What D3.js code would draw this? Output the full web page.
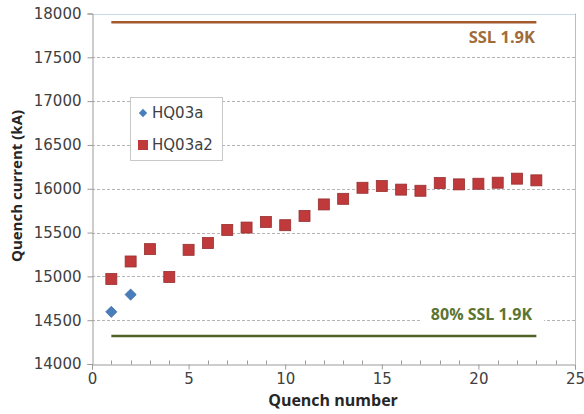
<!DOCTYPE html>
<html>
<head>
<meta charset="utf-8">
<script src="https://cdn.jsdelivr.net/npm/d3@7"></script>
<style>
  html, body { margin: 0; padding: 0; background: #fff; }
  svg { display: block; }
</style>
</head>
<body>
<svg id="chart" width="584" height="414"></svg>
<script>
// Quench training data
const quenchHQ03a = [1, 2];
const currentHQ03a = [14595, 14792];
const quenchHQ03a2 = [1, 2, 3, 4, 5, 6, 7, 8, 9, 10, 11, 12, 13, 14, 15, 16, 17, 18, 19, 20, 21, 22, 23];
const currentHQ03a2 = [14970, 15170, 15311, 14993, 15303, 15380, 15530, 15557, 15621, 15584, 15690, 15821, 15885, 16011, 16031, 15990, 15977, 16065, 16050, 16057, 16069, 16115, 16096];
const seriesNames = ["HQ03a", "HQ03a2"];
const sslLimit = 17900;
const sslFraction = 0.8;
const refStart = 1, refEnd = 23;
const xTicks = [0, 5, 10, 15, 20, 25];
const yTicks = [14000, 14500, 15000, 15500, 16000, 16500, 17000, 17500, 18000];
const sslLabel = "SSL 1.9K";
const sslFracLabel = "80% SSL 1.9K";

const svg = d3.select("#chart");
const plotLeft = 92, plotRight = 575, plotTop = 13.5, plotBottom = 364;

const x = d3.scaleLinear().domain([0, 25]).range([plotLeft, plotRight]);
const y = d3.scaleLinear().domain([14000, 18000]).range([plotBottom, plotTop]);

const tickFont = "DejaVu Sans, sans-serif";
const titleFont = "Open Sans, sans-serif";

// horizontal dashed gridlines
svg.append("g")
  .selectAll("line")
  .data(yTicks.filter(v => v > 14000 && v < 18000))
  .join("line")
  .attr("x1", plotLeft).attr("x2", plotRight)
  .attr("y1", d => Math.round(y(d)) + 0.5).attr("y2", d => Math.round(y(d)) + 0.5)
  .attr("stroke", "#b4b4b4")
  .attr("stroke-width", 1)
  .attr("stroke-dasharray", "3,2");

// plot frame: top and right edges
svg.append("line")
  .attr("x1", plotLeft).attr("x2", plotRight)
  .attr("y1", Math.round(y(18000)) + 0.5).attr("y2", Math.round(y(18000)) + 0.5)
  .attr("stroke", "#c9dbe8").attr("stroke-width", 1);
svg.append("line")
  .attr("x1", plotRight + 0.5).attr("x2", plotRight + 0.5)
  .attr("y1", y(18000)).attr("y2", y(14000))
  .attr("stroke", "#bdbdbd").attr("stroke-width", 1);

// y axis
const yAxis = d3.axisLeft(y).tickValues(yTicks).tickSize(5).tickPadding(6).tickFormat(d3.format("d"));
const gy = svg.append("g").attr("transform", `translate(${plotLeft + 0.5},0)`).call(yAxis);
gy.select(".domain").attr("stroke", "#9a9a9a");
gy.selectAll(".tick line").attr("stroke", "#9a9a9a");
gy.selectAll(".tick text")
  .attr("font-family", tickFont).attr("font-size", 15).attr("fill", "#404040");

// x axis: major ticks outward, minor ticks inward
const xAxis = d3.axisBottom(x).tickValues(xTicks).tickSize(5).tickPadding(4).tickFormat(d3.format("d"));
const gx = svg.append("g").attr("transform", `translate(0,${Math.round(plotBottom) + 0.5})`).call(xAxis);
gx.select(".domain").attr("stroke", "#9a9a9a");
gx.selectAll(".tick line").attr("stroke", "#9a9a9a");
gx.selectAll(".tick text")
  .attr("font-family", tickFont).attr("font-size", 15).attr("fill", "#404040");
gx.append("g")
  .selectAll("line")
  .data(d3.range(1, 25).filter(v => v % 5 !== 0))
  .join("line")
  .attr("x1", d => Math.round(x(d)) + 0.5).attr("x2", d => Math.round(x(d)) + 0.5)
  .attr("y1", 0).attr("y2", -4)
  .attr("stroke", "#9a9a9a");

// axis titles
svg.append("text")
  .attr("x", 333).attr("y", 406)
  .attr("text-anchor", "middle")
  .attr("font-family", titleFont).attr("font-weight", "bold")
  .attr("font-size", 16).attr("fill", "#262626")
  .text("Quench number");
svg.append("text")
  .attr("transform", "translate(22,186) rotate(-90)")
  .attr("text-anchor", "middle")
  .attr("font-family", titleFont).attr("font-weight", "bold")
  .attr("font-size", 15).attr("fill", "#262626")
  .text("Quench current (kA)");

// SSL reference lines
const sslColor = "#a2592c";
const fracColor = "#4f6228";
svg.append("line")
  .attr("x1", x(refStart)).attr("x2", x(refEnd))
  .attr("y1", y(sslLimit)).attr("y2", y(sslLimit))
  .attr("stroke", sslColor).attr("stroke-width", 2.5);
svg.append("line")
  .attr("x1", x(refStart)).attr("x2", x(refEnd))
  .attr("y1", y(sslLimit * sslFraction)).attr("y2", y(sslLimit * sslFraction))
  .attr("stroke", fracColor).attr("stroke-width", 2.5);

// labels for the reference lines
svg.append("text")
  .attr("x", 535).attr("y", 43)
  .attr("text-anchor", "end")
  .attr("font-family", titleFont).attr("font-weight", "bold")
  .attr("font-size", 16.5).attr("fill", "#a06c3a")
  .text(sslLabel);
svg.append("rect")
  .attr("x", 420).attr("y", 302).attr("width", 124).attr("height", 24)
  .attr("fill", "#fff");
svg.append("text")
  .attr("x", 532).attr("y", 320)
  .attr("text-anchor", "end")
  .attr("font-family", titleFont).attr("font-weight", "bold")
  .attr("font-size", 16).attr("fill", "#5b7431")
  .text(sslFracLabel);

// data markers
const diamond = d3.symbol().type(d3.symbolDiamond2).size(80);
svg.append("g")
  .selectAll("path")
  .data(quenchHQ03a.map((q, i) => [q, currentHQ03a[i]]))
  .join("path")
  .attr("d", diamond)
  .attr("transform", d => `translate(${x(d[0])},${y(d[1])})`)
  .attr("fill", "#4a7ebb").attr("stroke", "#3f6fa6").attr("stroke-width", 0.8);

const sq = 11;
svg.append("g")
  .selectAll("rect")
  .data(quenchHQ03a2.map((q, i) => [q, currentHQ03a2[i]]))
  .join("rect")
  .attr("x", d => x(d[0]) - sq / 2).attr("y", d => y(d[1]) - sq / 2)
  .attr("width", sq).attr("height", sq)
  .attr("fill", "#c0393b").attr("stroke", "#973030").attr("stroke-width", 0.8);

// legend
const lg = svg.append("g");
lg.append("rect")
  .attr("x", 130.5).attr("y", 97.5).attr("width", 92).attr("height", 63)
  .attr("fill", "#fff").attr("stroke", "#c8c8c8");
lg.append("path")
  .attr("d", d3.symbol().type(d3.symbolDiamond2).size(44))
  .attr("transform", "translate(143,113)")
  .attr("fill", "#4a7ebb");
lg.append("rect")
  .attr("x", 138).attr("y", 140).attr("width", 10).attr("height", 10)
  .attr("fill", "#c0393b");
lg.selectAll("text")
  .data(seriesNames)
  .join("text")
  .attr("x", 152).attr("y", (d, i) => 118 + i * 32)
  .attr("font-family", tickFont).attr("font-size", 15).attr("fill", "#404040")
  .text(d => d);
</script>
</body>
</html>
